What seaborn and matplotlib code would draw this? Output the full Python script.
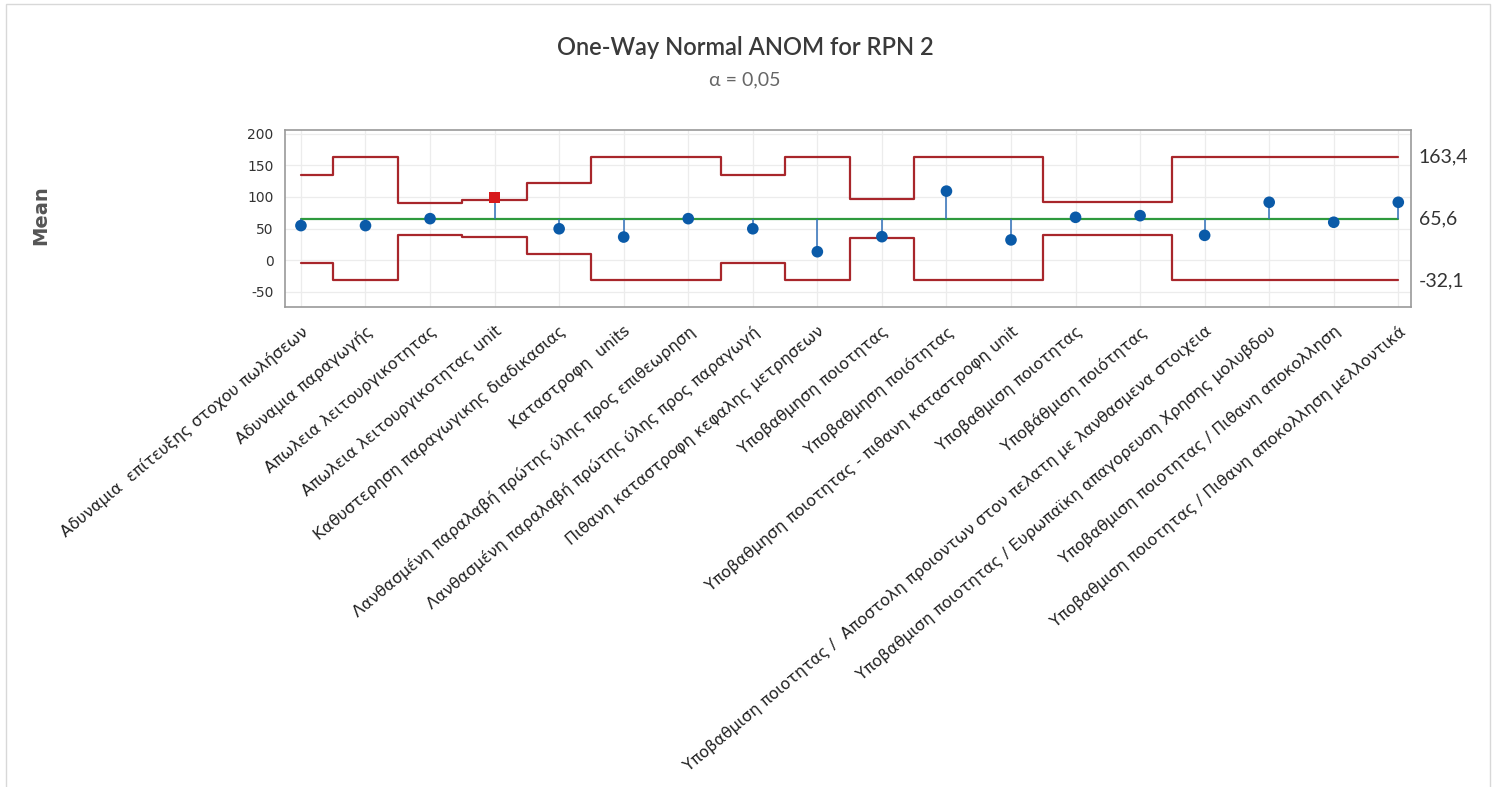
import numpy as np
import pandas as pd
import seaborn as sns
import matplotlib.pyplot as plt

categories = [
    "Αδυναμια  επίτευξης στοχου πωλήσεων",
    "Αδυναμια παραγωγής",
    "Απωλεια λειτουργικοτητας",
    "Απωλεια λειτουργικοτητας unit",
    "Καθυστερηση παραγωγικης διαδικασιας",
    "Καταστροφη  units",
    "Λανθασμένη παραλαβή πρώτης ύλης προς επιθεωρηση",
    "Λανθασμένη παραλαβή πρώτης ύλης προς παραγωγή",
    "Πιθανη καταστροφη κεφαλης μετρησεων",
    "Υποβαθμηση ποιοτητας",
    "Υποβαθμηση ποιότητας",
    "Υποβαθμηση ποιοτητας - πιθανη καταστροφη unit",
    "Υποβαθμιση ποιοτητας",
    "Υποβάθμιση ποιότητας",
    "Υποβαθμιση ποιοτητας /  Αποστολη προιοντων στον πελατη με λανθασμενα στοιχεια",
    "Υποβαθμιση ποιοτητας / Ευρωπαϊκη απαγορευση Χρησης μολυβδου",
    "Υποβαθμιση ποιοτητας / Πιθανη αποκολληση",
    "Υποβαθμιση ποιοτητας / Πιθανη αποκολληση μελλοντικά",
]
means = [54.6, 54.6, 65.6, 99.0, 49.6, 36.5, 65.6, 49.6, 13.3,
         37.1, 109.1, 32.0, 67.7, 70.3, 39.2, 91.5, 59.9, 91.5]
upper = [135.1, 163.4, 90.8, 94.4, 121.8, 163.4, 163.4, 135.1, 163.4,
         96.4, 163.4, 163.4, 91.2, 91.2, 163.4, 163.4, 163.4, 163.4]
lower = [-3.9, -32.1, 40.4, 36.8, 9.4, -32.1, -32.1, -3.9, -32.1,
         34.8, -32.1, -32.1, 40.0, 40.0, -32.1, -32.1, -32.1, -32.1]
center = 65.6
udl_label, center_label, ldl_label = "163,4", "65,6", "-32,1"
alpha_text = "α = 0,05"

df = pd.DataFrame({"cat": categories, "x": np.arange(len(categories)),
                   "mean": means, "upper": upper, "lower": lower})
df["out"] = (df["mean"] > df["upper"]) | (df["mean"] < df["lower"])

sns.set_theme(style="whitegrid")
plt.rcParams["font.family"] = ["DejaVu Sans"]
narrow = ["Lato", "DejaVu Sans"]

fig = plt.figure(figsize=(14.99, 7.87), dpi=100)
ax = fig.add_axes([0.190, 0.610, 0.751, 0.225])

ax.grid(True, color="#ececec", linewidth=0.9)
ax.step(df["x"], df["upper"], where="mid", color="#a8262b", lw=1.6, zorder=2)
ax.step(df["x"], df["lower"], where="mid", color="#a8262b", lw=1.6, zorder=2)
ax.plot([df["x"].iloc[0], df["x"].iloc[-1]], [center, center], color="#2e9a3e", lw=1.6, zorder=3)
ax.vlines(df["x"], center, df["mean"], color="#2f6fb8", lw=1.1, zorder=3)

sns.scatterplot(data=df[~df["out"]], x="x", y="mean", ax=ax, color="#0a5aa8",
                marker="o", s=70, edgecolor="none", zorder=4, legend=False)
sns.scatterplot(data=df[df["out"]], x="x", y="mean", ax=ax, color="#d7191c",
                marker="s", s=70, edgecolor="none", zorder=4, legend=False)

ax.set_xlim(-0.25, len(categories) - 1 + 0.19)
ax.set_ylim(-74, 206)
ax.set_yticks([-50, 0, 50, 100, 150, 200])
ax.set_yticklabels(["-50", "0", "50", "100", "150", "200"], fontsize=10, color="#333333")
ax.set_xticks(df["x"])
ax.set_xticklabels(df["cat"], rotation=40, ha="right", rotation_mode="anchor",
                   fontsize=11.5, color="#222222")
ax.set_xlabel("")
ax.set_ylabel("")
ax.tick_params(axis="x", length=8, width=0.9, color="#888888", pad=4)
ax.tick_params(axis="y", length=6, width=0.9, color="#888888", pad=2)
for sp in ax.spines.values():
    sp.set_color("#9a9a9a")
    sp.set_linewidth(1.2)

# limit labels on the right
for val, txt in [(163.4, udl_label), (center, center_label), (-32.1, ldl_label)]:
    ax.annotate(txt, xy=(1, val), xycoords=("axes fraction", "data"),
                xytext=(6, 0), textcoords="offset points", va="center", ha="left",
                fontsize=14, color="#333333", family=narrow)

fig.text(0.497, 0.940, "One-Way Normal ANOM for RPN 2", ha="center", va="center",
         fontsize=17, color="#3a3a3a", family=narrow, fontweight="semibold")
fig.text(0.497, 0.898, alpha_text, ha="center", va="center",
         fontsize=14, color="#666666", family=narrow)
fig.text(0.027, 0.727, "Mean", rotation=90, ha="center", va="center",
         fontsize=14, fontweight="bold", color="#555555")

# thin outer frame
frame = plt.Rectangle((0.004, -0.01), 0.990, 1.005, transform=fig.transFigure,
                      fill=False, edgecolor="#d8d8d8", lw=1.0)
fig.patches.append(frame)

fig.savefig("out.png", dpi=100)
